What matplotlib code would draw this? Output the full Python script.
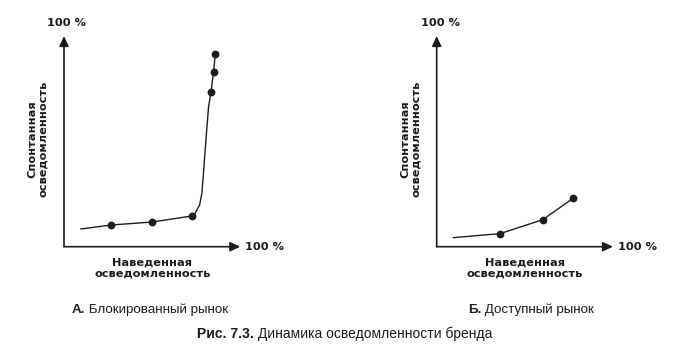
import matplotlib
matplotlib.use("Agg")
import matplotlib.pyplot as plt
from matplotlib import font_manager as fm

# Brand awareness dynamics: prompted (x) vs spontaneous (y) awareness, in %
# Panel A: blocked market
blocked_curve_x = [9.5, 26.7, 50.0, 72.6, 74.4, 76.9, 78.2, 79.1, 80.1, 81.1, 82.0, 83.4, 84.8, 85.8]
blocked_curve_y = [8.4, 10.3, 11.7, 14.6, 15.9, 19.8, 25.3, 34.8, 46.0, 57.0, 66.4, 73.6, 82.8, 91.3]
blocked_points_x = [26.7, 50.0, 72.6, 83.4, 84.8, 85.8]
blocked_points_y = [10.3, 11.7, 14.6, 73.6, 82.8, 91.3]

# Panel B: open market
open_curve_x = [9.4, 35.9, 60.1, 77.4]
open_curve_y = [4.3, 6.2, 12.8, 23.0]
open_points_x = [35.9, 60.1, 77.4]
open_points_y = [6.2, 12.8, 23.0]

axis_end_label = "100 %"
x_label = "Наведенная\nосведомленность"
y_label = "Спонтанная\nосведомленность"
panel_titles = [("А.", " Блокированный рынок"), ("Б.", " Доступный рынок")]
caption_bold = "Рис. 7.3."
caption_rest = " Динамика осведомленности бренда"

W, H = 674, 350
INK = "#1c1c1c"

available = {f.name for f in fm.fontManager.ttflist}
narrow = "Liberation Sans Narrow" if "Liberation Sans Narrow" in available else "Liberation Sans"
narrow_stretch = "normal" if narrow == "Liberation Sans Narrow" else "condensed"

fig = plt.figure(figsize=(W / 100, H / 100), dpi=100)
fig.patch.set_facecolor("white")


def fx(x):
    return x / W


def fy(y):
    return 1 - y / H


def draw_panel(left_px, curve_x, curve_y, pts_x, pts_y, xlab_cx, ylab_cx, top_lbl_cx, right_lbl_x):
    origin_y, top_y, length = 246.7, 36.0, 176.3
    ax = fig.add_axes([fx(left_px), fy(origin_y), length / W, (origin_y - top_y) / H])
    ax.set_xlim(0, 100)
    ax.set_ylim(0, 100)
    ax.axis("off")
    arrow = dict(arrowstyle="-|>,head_length=0.6,head_width=0.28", lw=1.2,
                 color=INK, shrinkA=0, shrinkB=0, mutation_scale=10)
    ax.annotate("", xy=(100, 0), xytext=(0, 0), arrowprops=arrow, annotation_clip=False)
    ax.annotate("", xy=(0, 100), xytext=(0, 0), arrowprops=arrow, annotation_clip=False)
    ax.plot(curve_x, curve_y, color=INK, lw=1.0, clip_on=False,
            solid_capstyle="round", solid_joinstyle="round")
    ax.plot(pts_x, pts_y, "o", color=INK, ms=4.6, clip_on=False)

    bold = dict(family="DejaVu Sans", weight="bold", size=8.2, color=INK)
    fig.text(fx(top_lbl_cx), fy(22.5), axis_end_label, ha="center", va="center", **bold)
    fig.text(fx(right_lbl_x), fy(246.5), axis_end_label, ha="left", va="center", **bold)
    fig.text(fx(xlab_cx), fy(268), x_label, ha="center", va="center",
             multialignment="center", linespacing=1.05, **bold)
    fig.text(fx(ylab_cx), fy(139), y_label, ha="center", va="center", rotation=90,
             multialignment="center", linespacing=1.05, **bold)
    return ax


draw_panel(64.0, blocked_curve_x, blocked_curve_y, blocked_points_x, blocked_points_y,
           xlab_cx=152.5, ylab_cx=37.5, top_lbl_cx=66.7, right_lbl_x=245.0)
draw_panel(436.7, open_curve_x, open_curve_y, open_points_x, open_points_y,
           xlab_cx=525.0, ylab_cx=411.0, top_lbl_cx=440.5, right_lbl_x=617.7)

# Panel titles and figure caption (bold lead-in followed by regular text)
renderer = fig.canvas.get_renderer()


def mixed_text(x_px, y_px, lead, rest, size):
    t1 = fig.text(fx(x_px), fy(y_px), lead, ha="left", va="baseline", size=size,
                  family=narrow, stretch=narrow_stretch, weight="bold", color=INK)
    bb = t1.get_window_extent(renderer)
    fig.text(bb.x1 / W, fy(y_px), rest, ha="left", va="baseline", size=size,
             family=narrow, stretch=narrow_stretch, weight="normal", color=INK)


mixed_text(72, 313, panel_titles[0][0], panel_titles[0][1], 9.6)
mixed_text(468, 313, panel_titles[1][0], panel_titles[1][1], 9.6)
mixed_text(197, 338, caption_bold, caption_rest, 10)

fig.savefig("out.png", dpi=100, facecolor="white")
